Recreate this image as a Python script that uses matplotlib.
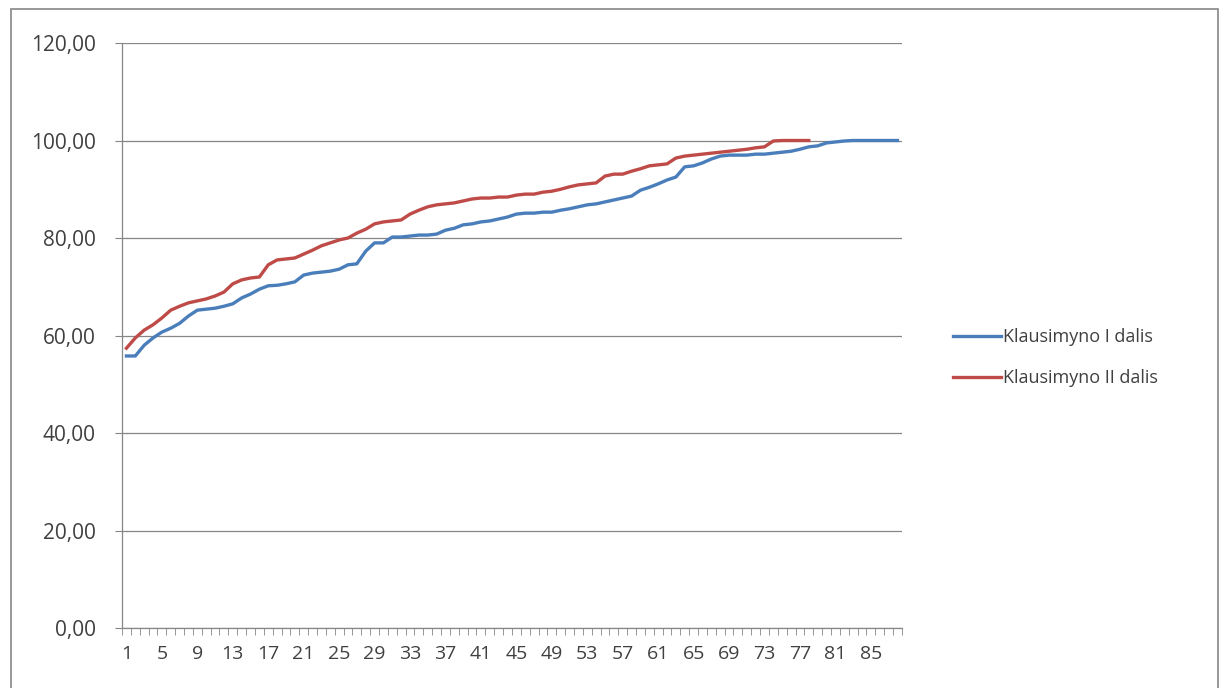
import matplotlib.pyplot as plt
import numpy as np
from matplotlib.patches import Rectangle
from matplotlib.ticker import FuncFormatter

# values
part1 = [55.8, 55.8, 58.0, 59.5, 60.7, 61.5, 62.5, 64.0, 65.2, 65.4,
         65.6, 66.0, 66.5, 67.7, 68.5, 69.5, 70.2, 70.3, 70.6, 71.0,
         72.4, 72.8, 73.0, 73.2, 73.6, 74.5, 74.7, 77.3, 79.0, 79.0,
         80.2, 80.2, 80.4, 80.6, 80.6, 80.8, 81.6, 82.0, 82.7, 82.9,
         83.3, 83.5, 83.9, 84.3, 84.9, 85.1, 85.1, 85.3, 85.3, 85.7,
         86.0, 86.4, 86.8, 87.0, 87.4, 87.8, 88.2, 88.6, 89.8, 90.4,
         91.1, 91.9, 92.5, 94.6, 94.8, 95.4, 96.2, 96.8, 97.0, 97.0,
         97.0, 97.2, 97.2, 97.4, 97.6, 97.8, 98.2, 98.7, 98.9, 99.5,
         99.7, 99.9, 100.0, 100.0, 100.0, 100.0, 100.0, 100.0]
part2 = [57.4, 59.5, 61.1, 62.2, 63.6, 65.2, 66.0, 66.7, 67.1, 67.5,
         68.1, 68.9, 70.6, 71.4, 71.8, 72.0, 74.5, 75.5, 75.7, 75.9,
         76.7, 77.5, 78.4, 79.0, 79.6, 80.0, 81.0, 81.8, 82.9, 83.3,
         83.5, 83.7, 84.9, 85.7, 86.4, 86.8, 87.0, 87.2, 87.6, 88.0,
         88.2, 88.2, 88.4, 88.4, 88.8, 89.0, 89.0, 89.4, 89.6, 90.0,
         90.5, 90.9, 91.1, 91.3, 92.7, 93.1, 93.1, 93.7, 94.2, 94.8,
         95.0, 95.2, 96.4, 96.8, 97.0, 97.2, 97.4, 97.6, 97.8, 98.0,
         98.2, 98.5, 98.7, 99.9, 100.0, 100.0, 100.0, 100.0]
labels = ["Klausimyno I dalis", "Klausimyno II dalis"]

plt.rcParams['font.family'] = ['Open Sans', 'DejaVu Sans']

fig = plt.figure(figsize=(12.25, 6.88), dpi=100)
ax = fig.add_axes([0.0996, 0.0872, 0.6366, 0.8503])

x1 = np.arange(1, len(part1) + 1)
x2 = np.arange(1, len(part2) + 1)
ax.plot(x1, part1, color="#4A7EBB", lw=2.4, label=labels[0], solid_joinstyle="round")
ax.plot(x2, part2, color="#BE4B48", lw=2.4, label=labels[1], solid_joinstyle="round")

n = len(part1)
ax.set_xlim(0.5, n + 0.5)
ax.set_ylim(0, 120)
ax.set_yticks(np.arange(0, 121, 20))
ax.yaxis.set_major_formatter(FuncFormatter(lambda v, p: f"{v:.2f}".replace(".", ",")))
ax.set_xticks(np.arange(1, n + 1, 4))
ax.set_xticks(np.arange(0.5, n + 1, 1), minor=True)
ax.tick_params(axis="x", which="major", length=0, pad=12, labelsize=14, colors="#404040")
ax.tick_params(axis="x", which="minor", length=5, color="#868686", direction="out")
ax.tick_params(axis="y", length=5, color="#868686", pad=14, labelsize=15, colors="#404040")
ax.grid(axis="y", color="#868686", lw=0.9)
ax.set_axisbelow(True)
for s in ["top", "right"]:
    ax.spines[s].set_visible(False)
for s in ["left", "bottom"]:
    ax.spines[s].set_color("#868686")
    ax.spines[s].set_linewidth(0.9)

leg = ax.legend(loc="center left", bbox_to_anchor=(1.045, 0.462), frameon=False,
                fontsize=13, handlelength=2.65, handletextpad=0.1, labelspacing=1.25)
for t in leg.get_texts():
    t.set_color("#404040")

fig.patches.append(Rectangle((0.009, -0.01), 0.985, 0.997, transform=fig.transFigure,
                             fill=False, edgecolor="#868686", lw=1.2))

fig.savefig("out.png", dpi=100)
